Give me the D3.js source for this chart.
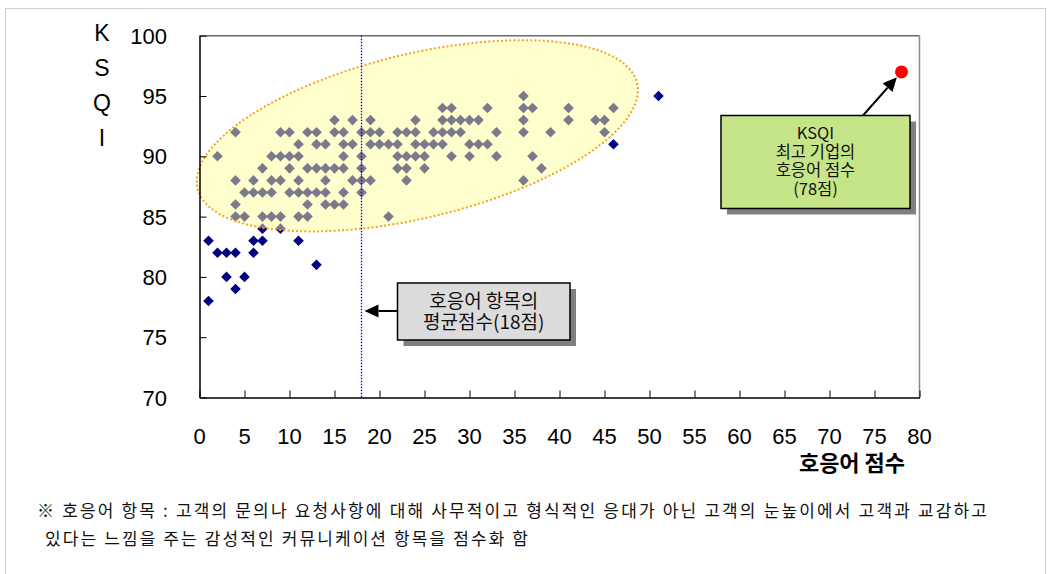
<!DOCTYPE html>
<html>
<head>
<meta charset="utf-8">
<script src="https://cdn.jsdelivr.net/npm/d3@7"></script>
<style>
  html, body { margin: 0; padding: 0; background: #ffffff; }
  svg { display: block; }
  .num { font-family: "Liberation Sans", Arial, sans-serif; }
  .kr { font-family: "Noto Sans CJK KR", "Noto Sans", sans-serif; }
</style>
</head>
<body>
<script>
// KSQI levels and the response scores of the companies at each level
const ksqiLevels = [95, 94, 93, 92, 91, 90, 89, 88, 87, 86, 85, 84, 83, 82, 81, 80, 79, 78];
const scoresByLevel = [
  [36, 51],
  [27, 28, 32, 36, 37, 41, 46],
  [15, 17, 19, 24, 27, 28, 29, 30, 31, 36, 41, 44, 45],
  [4, 9, 10, 12, 13, 15, 16, 18, 19, 20, 22, 23, 24, 26, 27, 28, 29, 33, 36, 39, 45],
  [11, 13, 14, 16, 17, 19, 20, 21, 22, 24, 25, 26, 27, 30, 31, 32, 46],
  [2, 8, 9, 10, 11, 16, 18, 22, 23, 24, 25, 28, 30, 33, 37],
  [7, 10, 12, 13, 14, 15, 16, 18, 22, 23, 25, 38],
  [4, 6, 8, 9, 11, 14, 17, 18, 19, 23, 36],
  [5, 6, 7, 8, 10, 11, 12, 13, 14, 16, 18],
  [4, 12, 14, 15, 16],
  [4, 5, 7, 8, 9, 11, 12, 21],
  [7, 9],
  [1, 6, 7, 11],
  [2, 3, 4, 6],
  [13],
  [3, 5],
  [4],
  [1]
];

// Highlighted values
const meanScore = 18;      // average response score
const topScore = 78;       // best company's response score
const topKsqi = 97;        // best company's KSQI

// Axis ticks
const xTickValues = [0, 5, 10, 15, 20, 25, 30, 35, 40, 45, 50, 55, 60, 65, 70, 75, 80];
const yTickValues = [70, 75, 80, 85, 90, 95, 100];
const yTitleLetters = ["K", "S", "Q", "I"];
const xTitle = "호응어 점수";
const noteLines = [
  "※ 호응어 항목 : 고객의 문의나 요청사항에 대해 사무적이고 형식적인 응대가 아닌 고객의 눈높이에서 고객과 교감하고",
  "있다는 느낌을 주는 감성적인 커뮤니케이션 항목을 점수화 함"
];
const topBoxLines = ["KSQI", "최고 기업의", "호응어 점수", `(${topScore}점)`];
const meanBoxLines = ["호응어 항목의", `평균점수(${meanScore}점)`];

const W = 1049, H = 574;
const plot = { left: 199.5, right: 919.5, top: 35.7, bottom: 397.5 };

const points = [];
ksqiLevels.forEach((k, i) => scoresByLevel[i].forEach(s => points.push({ score: s, ksqi: k })));

const svg = d3.select("body").append("svg").attr("width", W).attr("height", H);

const x = d3.scaleLinear().domain([0, 80]).range([plot.left, plot.right]);
const y = d3.scaleLinear().domain([70, 100]).range([plot.bottom, plot.top]);

// outer frame
svg.append("rect").attr("x", 5.5).attr("y", 8.5).attr("width", 1040).attr("height", 570)
  .attr("fill", "none").attr("stroke", "#d4d0c8").attr("stroke-width", 1);

// plot area border (top and right)
svg.append("line").attr("x1", plot.left).attr("x2", plot.right).attr("y1", plot.top).attr("y2", plot.top)
  .attr("stroke", "#6a6a6a").attr("stroke-width", 1.5);
svg.append("line").attr("x1", plot.right).attr("x2", plot.right).attr("y1", plot.top).attr("y2", plot.bottom)
  .attr("stroke", "#8a8a8a").attr("stroke-width", 1.5);

// company markers
const diamond = r => `M0,${-r}L${r},0L0,${r}L${-r},0Z`;
svg.append("g").selectAll("path").data(points).join("path")
  .attr("transform", d => `translate(${x(d.score)},${y(d.ksqi)})`)
  .attr("d", diamond(5.3))
  .attr("fill", "#000080");

// translucent highlight ellipse over the main cluster
const ell = { cx: x(24.2), cy: y(91.7), rx: 226, ry: 82, angle: -13.5 };
svg.append("ellipse")
  .attr("transform", `translate(${ell.cx},${ell.cy}) rotate(${ell.angle})`)
  .attr("rx", ell.rx).attr("ry", ell.ry)
  .attr("fill", "rgb(255,255,150)").attr("fill-opacity", 0.48)
  .attr("stroke", "#f5a31e").attr("stroke-width", 2).attr("stroke-dasharray", "2,2.2");

// mean score guide line
svg.append("line")
  .attr("x1", x(meanScore)).attr("x2", x(meanScore))
  .attr("y1", plot.top).attr("y2", plot.bottom)
  .attr("stroke", "#0000ff").attr("stroke-width", 1.3).attr("stroke-dasharray", "1.5,1.5");

// axes with inward ticks
const xAxis = svg.append("g").attr("transform", `translate(0,${plot.bottom})`)
  .call(d3.axisBottom(x).tickValues(xTickValues).tickSizeInner(-7).tickSizeOuter(0).tickFormat(""));
const yAxis = svg.append("g").attr("transform", `translate(${plot.left},0)`)
  .call(d3.axisLeft(y).tickValues(yTickValues).tickSizeInner(-7).tickSizeOuter(0).tickFormat(""));
[xAxis, yAxis].forEach(g => {
  g.select(".domain").attr("stroke", "#000").attr("stroke-width", 1.5);
  g.selectAll(".tick line").attr("stroke", "#000").attr("stroke-width", 1);
});

// tick labels
svg.append("g").selectAll("text").data(xTickValues).join("text")
  .attr("class", "num").attr("x", d => x(d)).attr("y", 444)
  .attr("text-anchor", "middle").attr("font-size", 22).attr("fill", "#000").text(d => d);
svg.append("g").selectAll("text").data(yTickValues).join("text")
  .attr("class", "num").attr("x", 167).attr("y", d => y(d) + 8)
  .attr("text-anchor", "end").attr("font-size", 22).attr("fill", "#000").text(d => d);

// axis titles
svg.append("g").selectAll("text").data(yTitleLetters).join("text")
  .attr("class", "num").attr("x", 102).attr("y", (d, i) => 41 + i * 35)
  .attr("text-anchor", "middle").attr("font-size", 23).attr("fill", "#000").text(d => d);
svg.append("text").attr("class", "kr").attr("x", 852).attr("y", 471)
  .attr("text-anchor", "middle").attr("font-size", 22).attr("font-weight", "bold")
  .attr("fill", "#000").text(xTitle);

// arrow helper: shaft plus filled head ending at (x2,y2)
function arrow(x1, y1, x2, y2) {
  const a = Math.atan2(y2 - y1, x2 - x1), len = 14, hw = 6.5;
  const bx = x2 - len * Math.cos(a), by = y2 - len * Math.sin(a);
  svg.append("line").attr("x1", x1).attr("y1", y1).attr("x2", bx).attr("y2", by)
    .attr("stroke", "#000").attr("stroke-width", 2);
  svg.append("path")
    .attr("d", `M${x2},${y2}L${bx - hw * Math.sin(a)},${by + hw * Math.cos(a)}L${bx + hw * Math.sin(a)},${by - hw * Math.cos(a)}Z`)
    .attr("fill", "#000");
}

// callout box with drop shadow and a multi-line centred label
function callout(bx, by, bw, bh, fill, lines, fontSize, lineH, firstBase) {
  svg.append("rect").attr("x", bx + 6).attr("y", by + 6).attr("width", bw).attr("height", bh).attr("fill", "#808080");
  svg.append("rect").attr("x", bx).attr("y", by).attr("width", bw).attr("height", bh)
    .attr("fill", fill).attr("stroke", "#000").attr("stroke-width", 1.5);
  const t = svg.append("text").attr("class", "kr")
    .attr("text-anchor", "middle").attr("font-size", fontSize).attr("fill", "#111");
  t.selectAll("tspan").data(lines).join("tspan")
    .attr("x", bx + bw / 2).attr("y", (d, i) => by + firstBase + i * lineH)
    .text(d => d);
}

// best company marker and its callout
const topX = x(topScore), topY = y(topKsqi);
{
  const sx = 863, sy = 115.5;
  const a = Math.atan2(topY - sy, topX - sx);
  arrow(sx, sy, topX - 7 * Math.cos(a), topY - 7 * Math.sin(a));
}
svg.append("circle").attr("cx", topX).attr("cy", topY).attr("r", 6.5).attr("fill", "#ff0000");
callout(721, 115.5, 189, 93, "#c5e588", topBoxLines, 16.5, 18.5, 23.5);

// mean score callout
arrow(397.5, 311, x(meanScore) + 3, 311);
callout(397.5, 283, 172.5, 57, "#dcdcdc", meanBoxLines, 19, 21, 24.5);

// footnote
svg.append("text").attr("class", "kr").attr("x", 37).attr("y", 517)
  .attr("font-size", 17).attr("fill", "#111")
  .attr("textLength", 950).attr("lengthAdjust", "spacing").text(noteLines[0]);
svg.append("text").attr("class", "kr").attr("x", 45).attr("y", 545)
  .attr("font-size", 17).attr("fill", "#111")
  .attr("textLength", 483).attr("lengthAdjust", "spacing").text(noteLines[1]);
</script>
</body>
</html>
